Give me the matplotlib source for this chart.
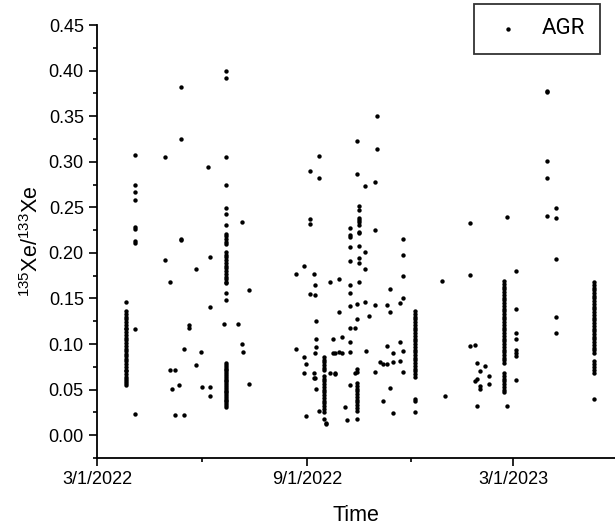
import matplotlib
matplotlib.use('Agg')
import matplotlib.pyplot as plt
import matplotlib.dates as mdates
import pandas as pd

# sampling dates and the 135Xe/133Xe ratios measured on each date
sample_dates = [
    '2022-03-26', '2022-04-03', '2022-04-30', '2022-05-04', '2022-05-06',
    '2022-05-08', '2022-05-12', '2022-05-14', '2022-05-16', '2022-05-21',
    '2022-05-27', '2022-05-31', '2022-06-01', '2022-06-06', '2022-06-08',
    '2022-06-20', '2022-06-22', '2022-07-03', '2022-07-06', '2022-07-07',
    '2022-07-12', '2022-08-22', '2022-08-29', '2022-08-31', '2022-09-04',
    '2022-09-07', '2022-09-08', '2022-09-09', '2022-09-12', '2022-09-16',
    '2022-09-18', '2022-09-21', '2022-09-24', '2022-09-26', '2022-09-29',
    '2022-10-02', '2022-10-04', '2022-10-06', '2022-10-09', '2022-10-13',
    '2022-10-15', '2022-10-17', '2022-10-22', '2022-10-23', '2022-10-25',
    '2022-10-31', '2022-11-01', '2022-11-04', '2022-11-07', '2022-11-10',
    '2022-11-13', '2022-11-15', '2022-11-22', '2022-11-24', '2022-12-05',
    '2022-12-28', '2022-12-31', '2023-01-22', '2023-01-26', '2023-01-28',
    '2023-01-31', '2023-02-04', '2023-02-08', '2023-02-21', '2023-02-23',
    '2023-03-03', '2023-03-30', '2023-04-07', '2023-05-11',
]

ratios = [
    [0.146, 0.136, 0.133, 0.130, 0.127, 0.124, 0.121, 0.118, 0.116, 0.113,
     0.110, 0.107, 0.104, 0.101, 0.098, 0.095, 0.092, 0.089, 0.087, 0.084,
     0.081, 0.078, 0.075, 0.072, 0.070, 0.067, 0.064, 0.062, 0.059, 0.057, 0.055],
    [0.307, 0.275, 0.267, 0.258, 0.228, 0.226, 0.213, 0.211, 0.117, 0.023],
    [0.305, 0.192],
    [0.168, 0.071],
    [0.0505],
    [0.072, 0.022],
    [0.055],
    [0.382, 0.3245, 0.214, 0.215],
    [0.095, 0.022],
    [0.1205, 0.118],
    [0.182, 0.077],
    [0.0915],
    [0.053],
    [0.2945],
    [0.195, 0.141, 0.053, 0.043],
    [0.1215],
    [0.399, 0.392, 0.3055, 0.274, 0.249, 0.243, 0.2305, 0.221, 0.218, 0.215,
     0.212, 0.210, 0.201, 0.198, 0.195, 0.192, 0.189, 0.186, 0.183, 0.180,
     0.177, 0.174, 0.171, 0.168, 0.1665, 0.1555, 0.148,
     0.079, 0.077, 0.075, 0.073, 0.071, 0.069, 0.067, 0.065, 0.063, 0.061,
     0.059, 0.057, 0.055, 0.053, 0.051, 0.049, 0.047, 0.045, 0.043, 0.041,
     0.039, 0.037, 0.035, 0.033, 0.031],
    [0.122],
    [0.234, 0.100],
    [0.091],
    [0.1595, 0.056],
    [0.177, 0.095],
    [0.1855, 0.086, 0.0684],
    [0.078, 0.021],
    [0.290, 0.2367, 0.2316, 0.155],
    [0.1767, 0.0684, 0.063],
    [0.1646, 0.154, 0.0897, 0.063],
    [0.1255, 0.106, 0.0966, 0.0505],
    [0.306, 0.2824, 0.0267],
    [0.086, 0.083, 0.080, 0.077, 0.074, 0.071, 0.065, 0.062, 0.059, 0.056,
     0.053, 0.050, 0.047, 0.044, 0.041, 0.038, 0.035, 0.032, 0.029, 0.026, 0.0176],
    [0.0135, 0.0128],
    [0.1676, 0.0677],
    [0.1054, 0.090],
    [0.0677, 0.0670, 0.090],
    [0.1712, 0.1353, 0.091],
    [0.108, 0.090],
    [0.031],
    [0.0172],
    [0.227, 0.220, 0.217, 0.206, 0.191, 0.165, 0.1555, 0.1416, 0.118, 0.1024,
     0.0915, 0.0556],
    [0.118, 0.0677],
    [0.323, 0.287, 0.1438, 0.1273, 0.073, 0.069, 0.057, 0.054, 0.051, 0.048,
     0.045, 0.042, 0.039, 0.036, 0.033, 0.030, 0.027, 0.0183],
    [0.251, 0.247, 0.238, 0.236, 0.234, 0.231, 0.223, 0.2215, 0.2078, 0.194,
     0.189, 0.1679],
    [0.273, 0.2009, 0.182, 0.146],
    [0.0922],
    [0.131],
    [0.278, 0.2247, 0.1424, 0.0688],
    [0.3505, 0.3143],
    [0.0798],
    [0.0373, 0.078],
    [0.1427, 0.098, 0.078],
    [0.160, 0.1353, 0.0523],
    [0.0907, 0.0249, 0.080],
    [0.1452, 0.102, 0.0816],
    [0.2148, 0.198, 0.1745, 0.150, 0.092, 0.0695],
    [0.136, 0.133, 0.130, 0.127, 0.124, 0.121, 0.118, 0.115, 0.112, 0.109,
     0.106, 0.103, 0.100, 0.097, 0.094, 0.091, 0.088, 0.085, 0.082, 0.079,
     0.076, 0.073, 0.070, 0.067, 0.064, 0.040, 0.037, 0.025],
    [0.169],
    [0.043],
    [0.233, 0.1753, 0.0975],
    [0.099, 0.060],
    [0.0794, 0.0615, 0.0322],
    [0.0702, 0.0535, 0.051],
    [0.0757],
    [0.0655, 0.056],
    [0.169, 0.166, 0.163, 0.160, 0.157, 0.154, 0.151, 0.148, 0.145, 0.142,
     0.139, 0.136, 0.133, 0.130, 0.127, 0.124, 0.121, 0.118, 0.115, 0.112,
     0.109, 0.106, 0.103, 0.100, 0.097, 0.094, 0.091, 0.088, 0.085, 0.082,
     0.079, 0.068, 0.065, 0.062, 0.059, 0.056, 0.053, 0.050, 0.047],
    [0.239, 0.0322],
    [0.1803, 0.139, 0.112, 0.105, 0.093, 0.090, 0.087, 0.0607],
    [0.378, 0.376, 0.3007, 0.2817, 0.2407],
    [0.249, 0.2385, 0.1928, 0.1295, 0.1116],
    [0.168, 0.165, 0.162, 0.159, 0.156, 0.153, 0.150, 0.147, 0.144, 0.141,
     0.138, 0.135, 0.132, 0.129, 0.126, 0.123, 0.120, 0.117, 0.114, 0.111,
     0.108, 0.105, 0.102, 0.099, 0.096, 0.093, 0.090, 0.081, 0.078, 0.075,
     0.072, 0.068, 0.040],
]

x_ticks = ['2022-03-01', '2022-09-01', '2023-03-01']
x_minor = ['2022-06-01', '2022-12-01']
x_range = ['2022-03-01', '2023-05-29']

# expand groups into flat columns
rows = [(d, v) for d, vals in zip(sample_dates, ratios) for v in vals]
df = pd.DataFrame(rows, columns=['date', 'ratio'])
df['date'] = pd.to_datetime(df['date'])

plt.rcParams['font.family'] = ['Liberation Sans', 'DejaVu Sans']
plt.rcParams['mathtext.fontset'] = 'custom'
plt.rcParams['mathtext.rm'] = 'Liberation Sans'
plt.rcParams['mathtext.it'] = 'Liberation Sans:italic'

fig = plt.figure(figsize=(6.15, 5.28), dpi=100)
ax = fig.add_axes([97 / 615, 1 - 458 / 528, 1 - 97 / 615, (458 - 25) / 528])

ax.scatter(df['date'], df['ratio'], s=10, color='black', linewidths=0, label='AGR')

ax.set_xlim(pd.to_datetime(x_range[0]), pd.to_datetime(x_range[1]))
ax.set_ylim(-0.025, 0.45)
ax.set_xticks(pd.to_datetime(x_ticks))
ax.set_xticks(pd.to_datetime(x_minor), minor=True)
ax.xaxis.set_major_formatter(mdates.DateFormatter('%-m/%-d/%Y'))
ax.set_yticks([i * 0.05 for i in range(10)])
ax.set_yticks([0.025 + i * 0.05 for i in range(9)] + [-0.025], minor=True)
ax.yaxis.set_major_formatter(plt.FormatStrFormatter('%.2f'))

for side in ['top', 'right']:
    ax.spines[side].set_visible(False)
for side in ['left', 'bottom']:
    ax.spines[side].set_linewidth(1.3)
ax.tick_params(which='major', length=6, width=1.2, labelsize=13, direction='out')
ax.tick_params(which='minor', length=3, width=1.2, direction='out')

ax.set_xlabel('Time', fontsize=15.5, labelpad=12)
ax.set_ylabel(r'$^{135}$Xe/$^{133}$Xe', fontsize=15.5, labelpad=4)

leg = fig.legend(loc='upper right', bbox_to_anchor=(600 / 615, 1 - 4 / 528),
                 borderaxespad=0, fancybox=False, edgecolor='black',
                 prop={'family': 'Roboto', 'size': 16}, markerscale=1.0,
                 handletextpad=0.7, borderpad=0.65, handlelength=1.7)
leg.get_frame().set_linewidth(1.3)

fig.savefig('out.png', dpi=100)
